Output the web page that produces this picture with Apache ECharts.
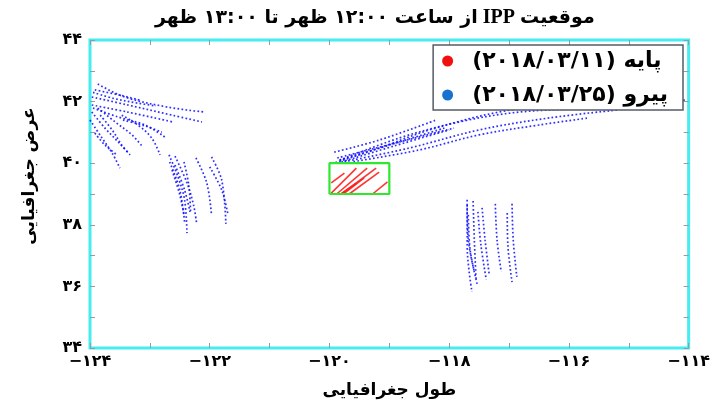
<!DOCTYPE html>
<html><head><meta charset="utf-8">
<script src="https://cdn.jsdelivr.net/npm/echarts@6/dist/echarts.min.js"></script>
<style>html,body{margin:0;padding:0;background:#fff}#c{width:713px;height:407px}</style>
</head><body><div id="c"></div>
<script>
const titleMain = 'از ساعت ۱۲:۰۰ ظهر تا ۱۳:۰۰ ظهر';
const titleAbbr = 'IPP';
const titleHead = 'موقعیت';
const xName = 'طول جغرافیایی';
const yName = 'عرض جغرافیایی';
const redName = 'پایه (۲۰۱۸/۰۳/۱۱)';
const blueName = 'پیرو (۲۰۱۸/۰۳/۲۵)';

const xTicks = [-124, -122, -120, -118, -116, -114];
const xTickLabels = ['−۱۲۴', '−۱۲۲', '−۱۲۰', '−۱۱۸', '−۱۱۶', '−۱۱۴'];
const yTicks = [34, 36, 38, 40, 42, 44];
const yTickLabels = ['۳۴', '۳۶', '۳۸', '۴۰', '۴۲', '۴۴'];

// blue IPP tracks (lon, lat), north-west group
const tracksNW = [
  [[-123.87,42.57],[-123.42,42.15],[-122.7,41.82],[-122.08,41.66]],
  [[-123.97,42.15],[-123.37,41.89],[-122.63,41.56],[-122.13,41.34]],
  [[-123.97,41.89],[-123.37,41.66],[-122.62,41.34]],
  [[-123.95,41.79],[-123.53,41.5],[-123.08,41.24],[-122.75,40.85]],
  [[-123.92,42.38],[-123.5,42.21],[-123.17,42.05]],
  [[-123.95,42.3],[-123.6,42.1],[-123.2,41.95],[-122.9,41.86]],
  [[-124.0,41.4],[-123.8,40.82],[-123.63,40.33],[-123.5,39.84]],
  [[-123.97,41.66],[-123.75,41.14],[-123.53,40.69],[-123.33,40.27]],
  [[-123.87,41.79],[-123.58,41.34],[-123.3,40.92],[-123.12,40.53]],
  [[-123.47,41.56],[-123.2,41.24],[-122.97,40.82],[-122.83,40.27]],
  [[-123.92,40.98],[-123.75,40.59],[-123.55,40.27]],
  [[-123.45,41.4],[-123.08,41.21],[-122.8,41.01]],
  [[-123.83,41.56],[-123.63,41.08],[-123.47,40.59],[-123.37,40.36]]
];
// north group
const tracksN = [
  [[-122.68,40.27],[-122.53,39.55],[-122.42,38.81],[-122.38,37.73]],
  [[-122.58,40.23],[-122.38,39.36],[-122.27,38.64],[-122.22,38.06]],
  [[-122.43,40.04],[-122.35,39.29],[-122.32,38.42]],
  [[-122.23,40.17],[-122.05,39.36],[-121.97,38.32]],
  [[-121.97,40.2],[-121.8,39.45],[-121.73,38.03]],
  [[-122.0,39.88],[-121.8,39.13],[-121.7,38.38]],
  [[-122.67,40.04],[-122.5,39.13],[-122.42,38.09]],
  [[-122.58,39.94],[-122.42,39.13],[-122.33,38.42]],
  [[-122.63,39.78],[-122.5,38.97],[-122.43,38.32]]
];
// north-east group
const tracksNE = [
  [[-119.9,40.02],[-119.17,40.49],[-118.33,41.08],[-117.17,41.66],[-116.0,41.95],[-114.83,42.05],[-114.03,42.05]],
  [[-119.83,40.1],[-118.83,40.82],[-117.83,41.34],[-116.83,41.66],[-115.5,41.79],[-114.5,41.86]],
  [[-119.75,40.05],[-118.67,40.49],[-117.5,41.08],[-116.33,41.47],[-115.17,41.73]],
  [[-119.6,40.05],[-118.5,40.43],[-117.5,40.92],[-116.5,41.24],[-115.67,41.47]],
  [[-119.92,40.36],[-119.17,40.75],[-118.22,41.4]],
  [[-119.83,40.1],[-119.0,40.59],[-118.08,41.14]],
  [[-119.87,40.17],[-118.83,40.69],[-117.92,41.14]],
  [[-119.8,40.04],[-118.92,40.56],[-118.0,41.08]]
];
// south group
const tracksS = [
  [[-117.7,38.81],[-117.7,37.34],[-117.67,36.53],[-117.62,35.82]],
  [[-117.6,38.77],[-117.58,37.5],[-117.55,36.21]],
  [[-117.52,38.42],[-117.47,37.34],[-117.38,36.21]],
  [[-117.45,38.55],[-117.4,37.5],[-117.33,36.37]],
  [[-117.23,38.68],[-117.2,37.5],[-117.13,36.47]],
  [[-117.03,38.38],[-117.02,37.34],[-116.95,36.14]],
  [[-116.95,38.68],[-116.93,37.5],[-116.87,36.31]],
  [[-117.7,38.64],[-117.68,37.5],[-117.58,36.47]],
  [[-117.68,38.32],[-117.65,37.18],[-117.53,36.05]]
];
// red base-day tracks
const baseTracks = [
  [[-119.97,39.03],[-119.55,39.84]],
  [[-119.88,39.0],[-119.37,39.84]],
  [[-119.8,39.0],[-119.22,39.84]],
  [[-119.77,39.0],[-119.42,39.52]],
  [[-119.28,39.0],[-119.03,39.39]],
  [[-119.97,39.36],[-119.75,39.68]],
  [[-119.67,39.0],[-119.17,39.71]],
  [[-119.8,39.02],[-119.55,39.35]]
];
const boxLon = [-120, -119];
const boxLat = [39, 40];

const FF = 'DejaVu Sans';
const RLE = '\u202B', PDF = '\u202C';
const lookup = (ticks, labels) => v => { const i = ticks.findIndex(t => Math.abs(t - v) < 1e-6); return i < 0 ? '' : labels[i]; };

const series = [];
[...tracksNW, ...tracksN, ...tracksNE, ...tracksS].forEach(t => series.push({
  type: 'line', name: blueName, data: t, smooth: 0.35, symbol: 'none', silent: true, z: 2,
  lineStyle: { color: 'rgba(10,10,255,0.85)', width: 1.7, type: [1.7, 2.3] }
}));
baseTracks.forEach(t => series.push({
  type: 'line', name: redName, data: t, symbol: 'none', silent: true, z: 3,
  lineStyle: { color: 'rgba(255,30,30,0.9)', width: 1.6 }
}));
series.push({
  type: 'line', name: 'box', symbol: 'none', silent: true, z: 4,
  data: [[boxLon[0], boxLat[0]], [boxLon[1], boxLat[0]], [boxLon[1], boxLat[1]], [boxLon[0], boxLat[1]], [boxLon[0], boxLat[0]]],
  lineStyle: { color: '#2ee82e', width: 2.2 }
});

const tick = () => ({ show: true, inside: true, length: 5, lineStyle: { color: '#9a9a9a', width: 1 } });
const lbl = (ticks, labels, margin) => ({ formatter: lookup(ticks, labels), margin: margin, showMinLabel: true, showMaxLabel: true,
  color: '#000', fontWeight: 'bold', fontSize: 16, fontFamily: FF });

const chart = echarts.init(document.getElementById('c'), null, { renderer: 'canvas' });
chart.setOption({
  animation: false,
  backgroundColor: '#fff',
  title: {
    text: '{f|' + RLE + titleMain + PDF + '} {s|' + titleAbbr + '} {f|' + titleHead + '}',
    left: 150, top: 3,
    textStyle: { rich: {
      f: { fontFamily: FF, fontWeight: 'bold', fontSize: 19, color: '#000' },
      s: { fontFamily: 'Liberation Serif', fontWeight: 'bold', fontSize: 20, color: '#000' }
    } }
  },
  legend: {
    data: [
      { name: redName, icon: 'circle', itemStyle: { color: '#f01010' } },
      { name: blueName, icon: 'circle', itemStyle: { color: '#1a72d0' } }
    ],
    orient: 'vertical', right: 30, top: 45,
    itemWidth: 11, itemHeight: 11, itemGap: 12,
    padding: [5, 15, 4, 9],
    backgroundColor: '#fff', borderColor: '#555b66', borderWidth: 1.5,
    formatter: n => RLE + n + PDF,
    textStyle: { color: '#000', fontWeight: 'bold', fontSize: 22, lineHeight: 21, fontFamily: FF, padding: [0, 0, 0, 14] },
    selectedMode: false
  },
  grid: { left: 90, right: 23, top: 40, bottom: 59, containLabel: false,
    show: true, borderColor: '#45ecf0', borderWidth: 3, backgroundColor: 'transparent' },
  xAxis: [
    { type: 'value', min: -124, max: -114, interval: 1, position: 'bottom',
      axisLine: { show: false }, axisTick: tick(), splitLine: { show: false },
      axisLabel: lbl(xTicks, xTickLabels, 6),
      name: xName, nameLocation: 'middle', nameGap: 34,
      nameTextStyle: { color: '#000', fontWeight: 'bold', fontSize: 17, fontFamily: FF } },
    { type: 'value', min: -124, max: -114, interval: 1, position: 'top',
      axisLine: { show: false }, axisTick: tick(), splitLine: { show: false }, axisLabel: { show: false } }
  ],
  yAxis: [
    { type: 'value', min: 34, max: 44, interval: 1, position: 'left',
      axisLine: { show: false }, axisTick: tick(), splitLine: { show: false },
      axisLabel: lbl(yTicks, yTickLabels, 8),
      name: yName, nameLocation: 'middle', nameGap: 52, nameRotate: 90,
      nameTextStyle: { color: '#000', fontWeight: 'bold', fontSize: 17, fontFamily: FF, padding: [0, 0, 0, 36] } },
    { type: 'value', min: 34, max: 44, interval: 1, position: 'right',
      axisLine: { show: false }, axisTick: tick(), splitLine: { show: false }, axisLabel: { show: false } }
  ],
  series: series
});
</script></body></html>
